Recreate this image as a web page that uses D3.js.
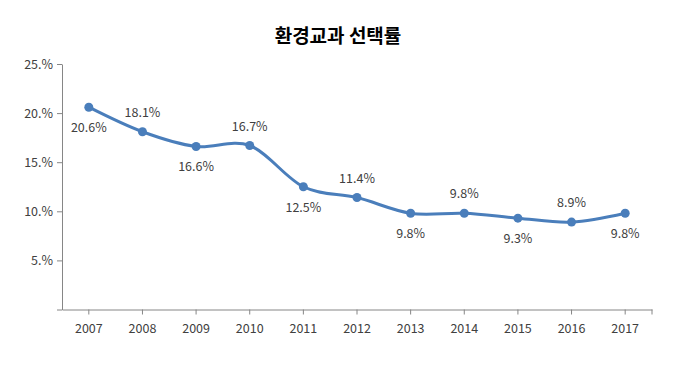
<!DOCTYPE html>
<html>
<head>
<meta charset="utf-8">
<script src="https://cdn.jsdelivr.net/npm/d3@7"></script>
<style>
body { margin: 0; background: #fff; }
text { font-family: "Noto Sans CJK KR", "Noto Sans", sans-serif; }
</style>
</head>
<body>
<div id="chart"></div>
<script>
const years = ["2007", "2008", "2009", "2010", "2011", "2012", "2013", "2014", "2015", "2016", "2017"];
const rates = [20.6, 18.1, 16.6, 16.7, 12.5, 11.4, 9.8, 9.8, 9.3, 8.9, 9.8];
const yTicks = [0, 5, 10, 15, 20, 25];
const title = "환경교과 선택률";

const width = 680, height = 365;
const plotLeft = 62, plotRight = 652, plotTop = 64, plotBottom = 309.5;

const svg = d3.select("#chart").append("svg")
    .attr("width", width).attr("height", height);

svg.append("text")
    .attr("x", 338).attr("y", 43)
    .attr("text-anchor", "middle")
    .attr("font-size", 19).attr("font-weight", "bold")
    .attr("fill", "#000")
    .text(title);

let x = d3.scaleBand().domain(years).range([plotLeft, plotRight]);
let y = d3.scaleLinear().domain([0, 25]).range([plotBottom, plotTop]);

// y axis
let yAxis = svg.append("g")
    .attr("transform", "translate(" + plotLeft + ",0)")
    .call(d3.axisLeft(y).tickValues(yTicks).tickSize(5).tickSizeOuter(0).tickFormat(d => d == 0 ? "" : d + ".%"));
yAxis.select(".domain").attr("stroke", "#868686");
yAxis.selectAll(".tick line").attr("stroke", "#868686");
yAxis.selectAll(".tick text").attr("font-size", 12.5).attr("fill", "#404040").attr("x", -9);

// x axis
let xAxis = svg.append("g")
    .attr("transform", "translate(0," + plotBottom + ")")
    .call(d3.axisBottom(x).tickSize(5).tickSizeOuter(0));
xAxis.select(".domain").attr("stroke", "#868686");
xAxis.selectAll(".tick line").attr("stroke", "#868686");
xAxis.selectAll(".tick text").attr("font-size", 12.5).attr("fill", "#404040").attr("dy", "1.2em");
xAxis.append("line")
    .attr("x1", plotRight).attr("x2", plotRight).attr("y1", 0).attr("y2", 5)
    .attr("stroke", "#868686");

let cx = d => x(d) + x.bandwidth() / 2;
let points = years.map((d, i) => [cx(d), y(rates[i])]);

let getPath = d3.line().curve(d3.curveCardinal.tension(0));
svg.append("path")
    .attr("d", getPath(points))
    .attr("fill", "none")
    .attr("stroke", "#4a7ebb")
    .attr("stroke-width", 3);

svg.selectAll("circle")
    .data(points)
    .enter().append("circle")
    .attr("cx", d => d[0]).attr("cy", d => d[1])
    .attr("r", 4.5)
    .attr("fill", "#4a7ebb");

svg.selectAll(".lbl")
    .data(rates)
    .enter().append("text")
    .attr("class", "lbl")
    .attr("x", (d, i) => cx(years[i]))
    .attr("y", (d, i) => y(d) + (i % 2 == 0 ? 25 : -15))
    .attr("text-anchor", "middle")
    .attr("font-size", 12.5)
    .attr("fill", "#404040")
    .text(d => d.toFixed(1) + "%");
</script>
</body>
</html>
